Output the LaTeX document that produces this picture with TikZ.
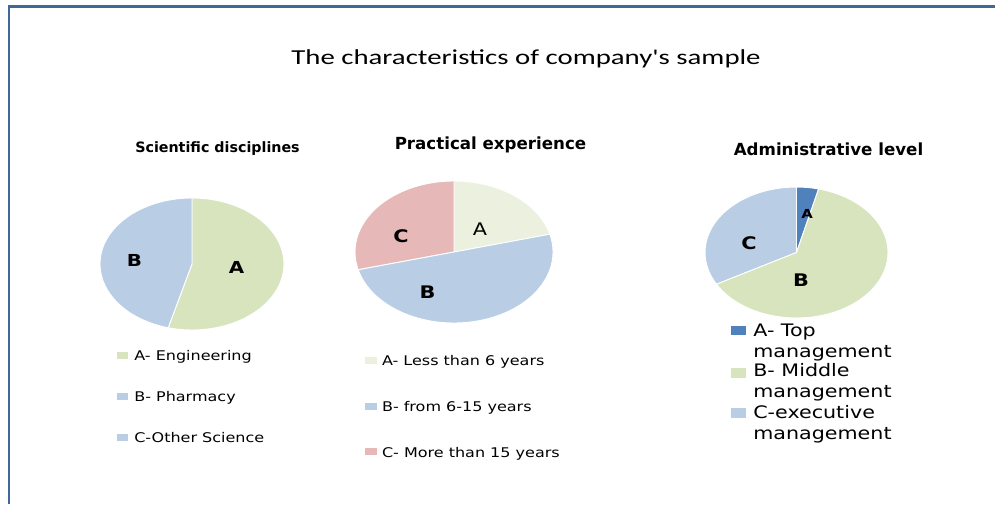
\documentclass[tikz,border=0pt]{standalone}
\usepackage{fontspec}
\setmainfont{DejaVu Sans}
\newfontfamily\titlefont{Carlito}
\usepackage{tikz}
\definecolor{frameBlue}{HTML}{41679A}
\definecolor{engGreen}{HTML}{D7E4BD}
\definecolor{pharmBlue}{HTML}{B9CDE5}
\definecolor{lessGreen}{HTML}{EBF1DE}
\definecolor{moreRed}{HTML}{E6B9B8}
\definecolor{topBlue}{HTML}{4F81BD}
\tikzset{
  frame/.style={draw=frameBlue,line width=2.2pt},
  titletext/.style={font=\titlefont\fontsize{16}{19}\selectfont,anchor=base,xscale=1.35,inner sep=0},
  charttitle/.style={font=\bfseries\fontsize{12.5}{15}\selectfont,anchor=base,inner sep=0},
  slicelabel/.style={font=\bfseries\fontsize{12.4}{14}\selectfont,xscale=1.2,inner sep=0},
  legendkey/.style={fill=#1,minimum width=8.25pt,minimum height=5.25pt,inner sep=0},
  legendtext/.style={font=\fontsize{10}{12}\selectfont,anchor=base west,xscale=1.2,inner sep=0},
  bigkey/.style={fill=#1,minimum width=11.25pt,minimum height=7pt,inner sep=0},
  bigtext/.style={font=\fontsize{12.9}{15.75}\selectfont,anchor=base west,align=left,xscale=1.2,inner sep=0}
}
% one slice of an elliptic pie: centre, start, end, colour, radii
\newcommand{\pieslice}[5]{%
  \fill[#4,draw=white,line width=0.7pt] (#1) -- ++(#2:#5) arc (#2:#3:#5) -- cycle;}
\begin{document}
\begin{tikzpicture}[x=0.75pt,y=0.75pt]
  \useasboundingbox (0,0) rectangle (995,504);
  \draw[frame] (9,0) -- (9,497.5) -- (995,497.5);
  \node[titletext] (title) at (526,439.5) {The characteristics of company's sample};

  % scientific disciplines
  \coordinate (sci) at (192,240);
  \node[charttitle,font=\bfseries\fontsize{10.7}{13}\selectfont] (scititle) at (217.5,351) {Scientific disciplines};
  \pieslice{sci}{-105}{90}{engGreen}{69pt and 49.5pt}
  \pieslice{sci}{90}{255}{pharmBlue}{69pt and 49.5pt}
  \node[slicelabel] (sciA) at (236.5,237) {A};
  \node[slicelabel] (sciB) at (134.5,243.5) {B};
  \node[legendkey=engGreen] (scikeyA) at (122.5,148.5) {};
  \node[legendkey=pharmBlue] (scikeyB) at (122.5,107.5) {};
  \node[legendkey=pharmBlue] (scikeyC) at (122.5,66.5) {};
  \node[legendtext] (scitextA) at (134,144) {A- Engineering};
  \node[legendtext] (scitextB) at (134,102.3) {B- Pharmacy};
  \node[legendtext] (scitextC) at (134,62) {C-Other Science};

  % practical experience
  \coordinate (prac) at (454,252);
  \node[charttitle] (practitle) at (490.5,354.5) {Practical experience};
  \pieslice{prac}{14.5}{90}{lessGreen}{74.25pt and 53.25pt}
  \pieslice{prac}{90}{194.5}{moreRed}{74.25pt and 53.25pt}
  \pieslice{prac}{194.5}{374.5}{pharmBlue}{74.25pt and 53.25pt}
  \node[slicelabel,font=\fontsize{13}{15}\selectfont] (pracA) at (480,274.5) {A};
  \node[slicelabel,font=\bfseries\fontsize{13}{15}\selectfont] (pracC) at (401,267.5) {C};
  \node[slicelabel,font=\bfseries\fontsize{13}{15}\selectfont] (pracB) at (427.5,212) {B};
  \node[legendkey=lessGreen,minimum width=9pt] (prackeyA) at (371,143.5) {};
  \node[legendkey=pharmBlue,minimum width=9pt] (prackeyB) at (371,97.5) {};
  \node[legendkey=moreRed,minimum width=9pt] (prackeyC) at (371,52.5) {};
  \node[legendtext] (practextA) at (381.7,139) {A- Less than 6 years};
  \node[legendtext] (practextB) at (381.7,92.3) {B- from 6-15 years};
  \node[legendtext] (practextC) at (381.7,46.7) {C- More than 15 years};

  % administrative level
  \coordinate (admin) at (796.5,251.5);
  \node[charttitle] (admintitle) at (828.5,348.3) {Administrative level};
  \pieslice{admin}{76}{90}{topBlue}{68.6pt and 49.1pt}
  \pieslice{admin}{90}{209}{pharmBlue}{68.6pt and 49.1pt}
  \pieslice{admin}{209}{436}{engGreen}{68.6pt and 49.1pt}
  \node[slicelabel,font=\bfseries\fontsize{9.3}{11}\selectfont] (adminA) at (807,290.5) {A};
  \node[slicelabel,font=\bfseries\fontsize{13}{15}\selectfont] (adminC) at (749,261) {C};
  \node[slicelabel,font=\bfseries\fontsize{13}{15}\selectfont] (adminB) at (801,224) {B};
  \node[bigkey=topBlue] (adminkeyA) at (738.5,173.5) {};
  \node[bigkey=engGreen] (adminkeyB) at (738.5,131) {};
  \node[bigkey=pharmBlue] (adminkeyC) at (738.5,91) {};
  \node[bigtext] (admintextA) at (753,146.3) {A- Top\\management};
  \node[bigtext] (admintextB) at (753,106.3) {B- Middle\\management};
  \node[bigtext] (admintextC) at (753,64.7) {C-executive\\management};
\end{tikzpicture}
\end{document}
